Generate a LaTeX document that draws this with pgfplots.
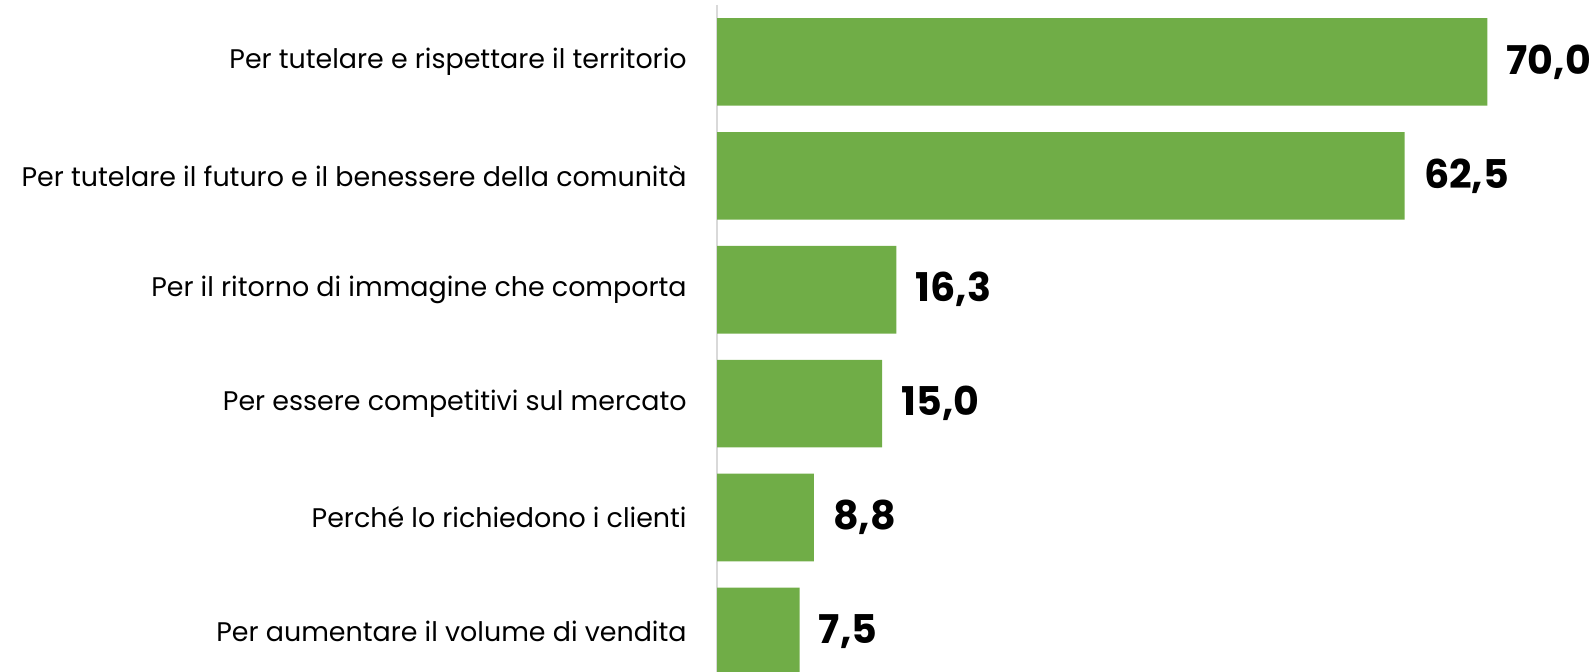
\documentclass[border=0pt]{standalone}
\usepackage{pgfplots}
\pgfplotsset{compat=1.18}
\usepackage{fontspec}
\setmainfont{Poppins}
\definecolor{bargreen}{HTML}{70AD47}
\definecolor{axisgray}{HTML}{D9D9D9}
\begin{document}
\begin{tikzpicture}
\begin{axis}[
  at={(358.5pt,0pt)}, anchor=south west,
  scale only axis, width=438.5pt, height=333.5pt,
  xbar, bar width=43.8pt, bar shift=0pt,
  xmin=0, xmax=79.7,
  ymin=-0.5, ymax=5.356, y dir=reverse,
  clip=true,
  axis x line=none,
  axis y line*=left,
  y axis line style={axisgray, line width=1pt},
  ytick={0,1,2,3,4,5},
  yticklabels={Per tutelare e rispettare il territorio,
    Per tutelare il futuro e il benessere della comunità,
    Per il ritorno di immagine che comporta,
    Per essere competitivi sul mercato,
    Perché lo richiedono i clienti,
    Per aumentare il volume di vendita},
  major tick length=0pt,
  yticklabel style={font=\fontsize{13.45pt}{15pt}\selectfont, inner sep=0pt, xshift=-15pt, anchor=east},
  nodes near coords,
  point meta=explicit symbolic,
  nodes near coords style={font=\fontsize{19.8pt}{23pt}\selectfont\bfseries, anchor=west, xshift=9.5pt, inner sep=0pt, text=black},
]
\addplot[fill=bargreen, draw=none] table[meta=lab] {
x y lab
70.0 0 70,0
62.5 1 62,5
16.3 2 16,3
15.0 3 15,0
8.8 4 8,8
7.5 5 7,5
};
\end{axis}
\pgfresetboundingbox
\useasboundingbox (0,0) rectangle (797pt,336pt);
\end{tikzpicture}
\end{document}
